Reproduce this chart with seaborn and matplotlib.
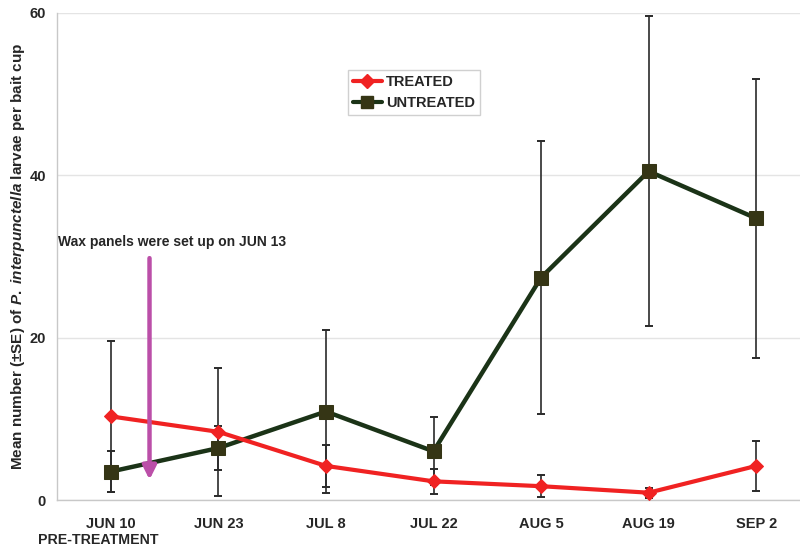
import numpy as np
import pandas as pd
import matplotlib
matplotlib.use("Agg")
import matplotlib.pyplot as plt
from matplotlib.lines import Line2D
import seaborn as sns

# Sampling dates and mean larval counts (±SE) per bait cup
dates = ["JUN 10", "JUN 23", "JUL 8", "JUL 22", "AUG 5", "AUG 19", "SEP 2"]
treated = [10.3, 8.4, 4.2, 2.3, 1.7, 0.9, 4.2]
treated_se = [9.3, 7.9, 2.6, 1.5, 1.35, 0.6, 3.1]
untreated = [3.5, 6.4, 10.9, 6.0, 27.4, 40.5, 34.7]
untreated_se = [2.5, 2.7, 10.0, 4.2, 16.8, 19.1, 17.2]
y_ticks = [0, 20, 40, 60]

sns.set_style("white")
plt.rcParams["font.family"] = ["Liberation Sans", "DejaVu Sans"]
plt.rcParams["font.weight"] = "bold"
plt.rcParams["mathtext.fontset"] = "custom"
plt.rcParams["mathtext.it"] = "Liberation Sans:italic:bold"
plt.rcParams["mathtext.rm"] = "Liberation Sans:bold"

RED = "#f02222"
GREEN = "#1b3317"
OLIVE = "#353515"
ERR = "#2a2a2a"
ARROW = "#bb4fa8"

x = np.arange(len(dates))
df = pd.concat([
    pd.DataFrame({"x": x, "mean": treated, "se": treated_se, "group": "TREATED"}),
    pd.DataFrame({"x": x, "mean": untreated, "se": untreated_se, "group": "UNTREATED"}),
])

fig = plt.figure(figsize=(8.0, 5.49), dpi=100)
ax = fig.add_axes([57 / 800, 49 / 549, 753 / 800, 487 / 549])

# standard-error bars
for grp in ["TREATED", "UNTREATED"]:
    d = df[df["group"] == grp]
    ax.errorbar(d["x"], d["mean"], yerr=d["se"], fmt="none", ecolor=ERR,
                elinewidth=1.2, capsize=3.2, capthick=1.4, zorder=2)

sns.lineplot(data=df[df["group"] == "UNTREATED"], x="x", y="mean", ax=ax,
             color=GREEN, lw=3.2, marker="s", markersize=9.5,
             markerfacecolor=OLIVE, markeredgecolor=OLIVE, zorder=3,
             legend=False)
sns.lineplot(data=df[df["group"] == "TREATED"], x="x", y="mean", ax=ax,
             color=RED, lw=3.0, marker="D", markersize=7.5,
             markerfacecolor=RED, markeredgecolor=RED, zorder=4,
             legend=False)

ax.set_xlim(-0.5, len(dates) - 0.5)
ax.set_ylim(0, 60)
ax.set_yticks(y_ticks)
ax.set_yticklabels([str(v) for v in y_ticks], fontsize=10.5, fontweight="bold")
ax.set_xticks(x)
ax.set_xticklabels(dates, fontsize=10.5, fontweight="bold")
ax.set_xticks(np.arange(-0.5, len(dates), 1.0), minor=True)
ax.tick_params(axis="x", which="major", length=0, pad=12)
ax.tick_params(axis="x", which="minor", length=5, color="#c8c8c8", width=1)
ax.tick_params(axis="y", which="major", length=5, color="#c8c8c8", width=1, pad=3)

# second line under the first sampling date
ax.text(-0.12, -40 / 487, "PRE-TREATMENT", transform=ax.get_xaxis_transform(),
        fontsize=10.2, fontweight="bold", ha="center", va="center")

ax.grid(axis="y", color="#e4e4e4", lw=1)
ax.set_axisbelow(True)
for s in ["top", "right"]:
    ax.spines[s].set_visible(False)
for s in ["left", "bottom"]:
    ax.spines[s].set_color("#c8c8c8")
    ax.spines[s].set_linewidth(1)

ax.set_xlabel("")
ax.set_ylabel(r"Mean number (±SE) of $\it{P.\ interpunctella}$ larvae per bait cup",
              fontsize=11, fontweight="bold")
ax.yaxis.set_label_coords(-30 / 753, 0.5)

# treatment date marker
ax.annotate("", xy=(0.36, 2.5), xytext=(0.36, 29.8),
            arrowprops=dict(arrowstyle="-|>", color=ARROW, lw=3.2,
                            mutation_scale=20, shrinkA=0, shrinkB=0),
            zorder=5)
ax.text(-0.495, 31.8, "Wax panels were set up on JUN 13", fontsize=10,
        fontweight="bold", ha="left", va="center")

handles = [
    Line2D([], [], color=RED, lw=3, marker="D", markersize=7, markerfacecolor=RED,
           markeredgecolor=RED),
    Line2D([], [], color=GREEN, lw=3, marker="s", markersize=8.5,
           markerfacecolor=OLIVE, markeredgecolor=OLIVE),
]
leg = ax.legend(handles, ["TREATED", "UNTREATED"], loc="upper left",
                bbox_to_anchor=(0.386, 0.883), frameon=True, fancybox=False,
                framealpha=1, edgecolor="#d0d0d0", fontsize=10.5,
                handlelength=2.0, handletextpad=0.3, borderpad=0.35,
                labelspacing=0.45, borderaxespad=0)
for t in leg.get_texts():
    t.set_fontweight("bold")
leg.get_frame().set_linewidth(1)

fig.savefig("out.png", dpi=100)
